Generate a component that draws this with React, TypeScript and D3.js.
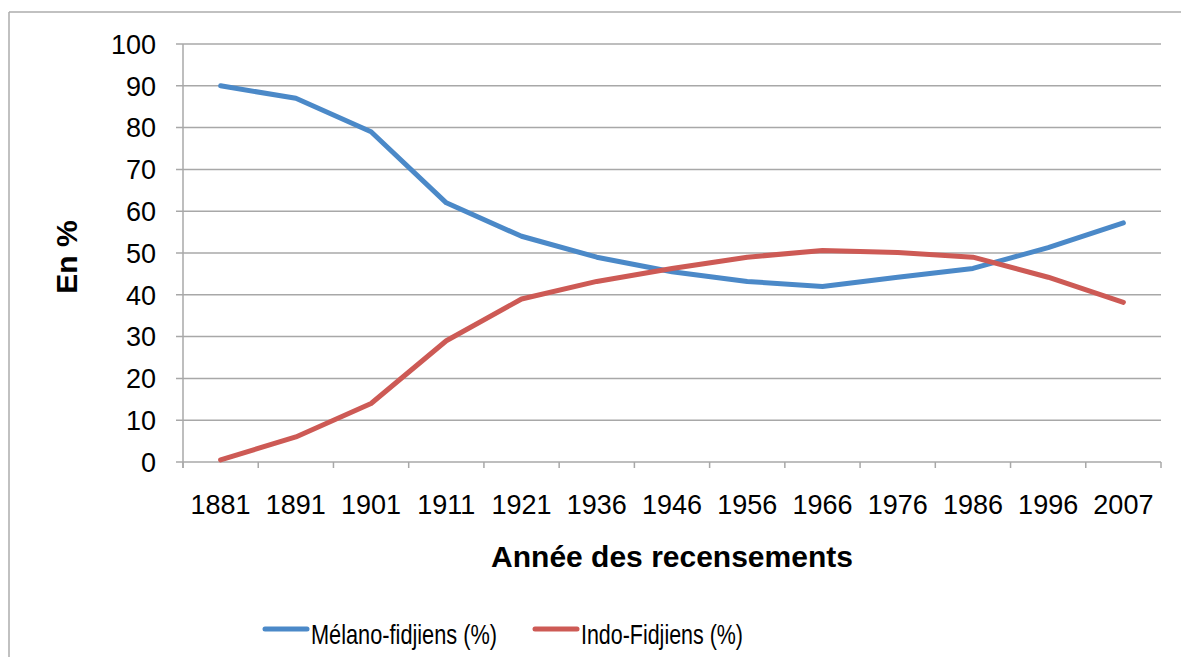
import React from 'react';
import * as d3 from 'd3';

const years = ['1881', '1891', '1901', '1911', '1921', '1936', '1946', '1956', '1966', '1976', '1986', '1996', '2007'];
const melano = [90, 87, 79, 62, 54, 49, 45.5, 43.2, 42, 44.2, 46.3, 51.3, 57.2];
const indo = [0.5, 6, 14, 29, 39, 43.2, 46.3, 49, 50.6, 50.1, 49, 44.2, 38.2];
const yTicks = [0, 10, 20, 30, 40, 50, 60, 70, 80, 90, 100];
const seriesNames = ['Mélano-fidjiens (%)', 'Indo-Fidjiens (%)'];
const colors = ['#4b89c8', '#cd5a55'];

const W = 1181;
const H = 657;
const left = 183;
const right = 1161;
const top = 44;
const bottom = 462;
const font = '"Liberation Sans", Arial, Helvetica, sans-serif';

const App = () => {
  const x = d3.scaleBand().domain(years).range([left, right]).paddingInner(0).paddingOuter(0);
  const y = d3.scaleLinear().domain([0, 100]).range([bottom, top]);
  const cx = (d) => x(d) + x.bandwidth() / 2;

  const line = d3
    .line()
    .x((d) => cx(d[0]))
    .y((d) => y(d[1]));

  const series = [melano, indo].map((vals) => years.map((yr, i) => [yr, vals[i]]));
  const boundaries = years.map((d) => x(d)).concat([right]);

  return (
    <svg width={W} height={H} style={{ position: 'absolute', left: 0, top: 0, background: '#fff' }} fontFamily={font}>
      {/* frame */}
      <line x1={9} y1={12} x2={W} y2={12} stroke="#adadad" strokeWidth={1.5} />
      <line x1={9} y1={12} x2={9} y2={H} stroke="#adadad" strokeWidth={1.5} />

      {/* gridlines + y labels */}
      {yTicks.map((t) => (
        <g key={t}>
          <line x1={left - 7} x2={right} y1={y(t)} y2={y(t)} stroke="#a8a8a8" strokeWidth={1.5} />
          <text x={156} y={y(t)} dy="0.36em" textAnchor="end" fontSize={27} fill="#000">
            {t}
          </text>
        </g>
      ))}

      {/* axes */}
      <line x1={left} x2={left} y1={top} y2={bottom + 6} stroke="#a8a8a8" strokeWidth={1.5} />
      {boundaries.map((bx, i) => (
        <line key={i} x1={bx} x2={bx} y1={bottom} y2={bottom + 6} stroke="#a8a8a8" strokeWidth={1.5} />
      ))}
      {years.map((yr) => (
        <text key={yr} x={cx(yr)} y={514} textAnchor="middle" fontSize={27} fill="#000">
          {yr}
        </text>
      ))}

      {/* titles */}
      <text x={672} y={567} textAnchor="middle" fontSize={30} fontWeight="bold" fill="#000">
        Année des recensements
      </text>
      <text
        transform="translate(77,257) rotate(-90)"
        textAnchor="middle"
        fontSize={30}
        fontWeight="bold"
        fill="#000"
      >
        En %
      </text>

      {/* series */}
      {series.map((s, i) => (
        <path key={i} d={line(s)} fill="none" stroke={colors[i]} strokeWidth={5} strokeLinejoin="round" strokeLinecap="round" />
      ))}

      {/* legend */}
      {[
        { lx: 265, tx: 311, tw: 186 },
        { lx: 535, tx: 581, tw: 162 },
      ].map((l, i) => (
        <g key={i}>
          <line x1={l.lx} x2={l.lx + 42} y1={629} y2={629} stroke={colors[i]} strokeWidth={5} strokeLinecap="round" />
          <text x={l.tx} y={644} fontSize={28} fill="#000" textLength={l.tw} lengthAdjust="spacingAndGlyphs">
            {seriesNames[i]}
          </text>
        </g>
      ))}
    </svg>
  );
};

export default App;
